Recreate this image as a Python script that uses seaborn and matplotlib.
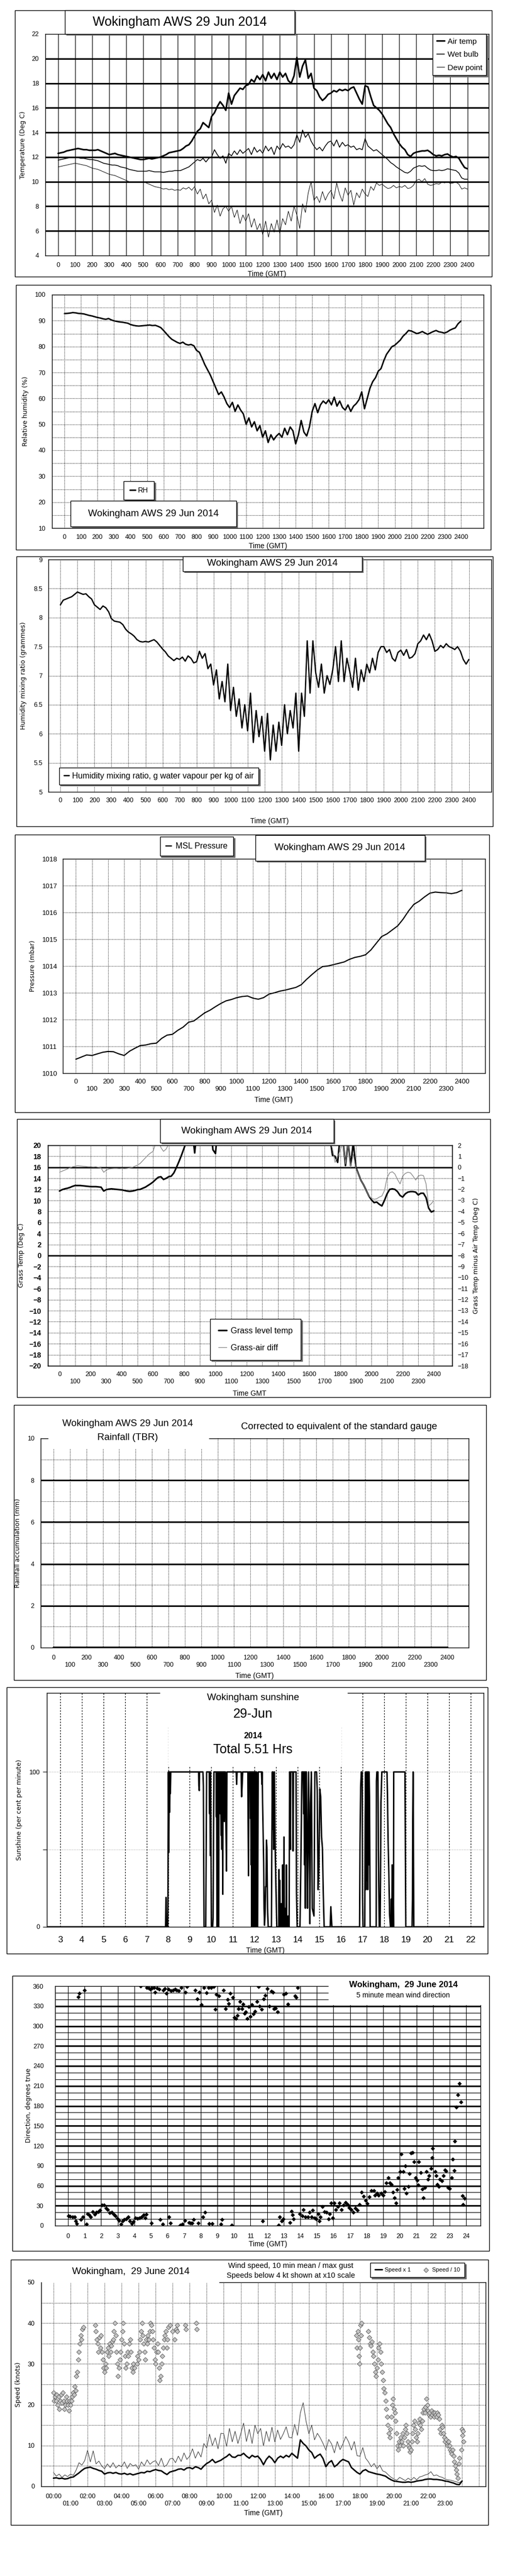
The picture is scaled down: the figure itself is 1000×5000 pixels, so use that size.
import numpy as np
import matplotlib
matplotlib.use("Agg")
import matplotlib.pyplot as plt
from matplotlib.patches import Rectangle
import seaborn as sns

sns.set_theme(style="white")
plt.rcParams["font.family"] = ["Liberation Sans", "DejaVu Sans"]
plt.rcParams.update({
    "axes.edgecolor": "black", "axes.linewidth": 1.0, "axes.labelcolor": "black",
    "xtick.color": "black", "ytick.color": "black", "text.color": "black",
    "axes.facecolor": "white", "figure.facecolor": "white",
})

# =============================================================================
# DATA  (for 29 Jun 2014)
# =============================================================================
# 10-minute readings 00:00 .. 24:00, one row per hour
air_temp = [
    12.3, 12.35, 12.4, 12.5, 12.55, 12.6,
    12.65, 12.7, 12.65, 12.6, 12.6, 12.55,
    12.55, 12.55, 12.6, 12.5, 12.4, 12.3,
    12.2, 12.25, 12.3, 12.2, 12.15, 12.1,
    12.05, 12.0, 11.95, 11.9, 11.85, 11.8,
    11.8, 11.85, 11.9, 11.85, 11.9, 11.95,
    12.0, 12.1, 12.2, 12.35, 12.4, 12.45,
    12.5, 12.55, 12.7, 12.9, 13.0, 13.3,
    13.7, 14.1, 14.3, 14.8, 14.6, 14.4,
    15.3, 15.6, 16.1, 16.5, 16.2, 15.8,
    17.2, 16.3, 17.0, 17.3, 17.6, 17.5,
    17.8, 17.9, 18.3, 18.1, 18.6, 18.3,
    18.7, 18.2, 18.9, 18.4, 18.8, 18.3,
    18.9, 18.5, 18.8, 18.2, 18.0, 18.6,
    20.1, 18.5, 19.4, 19.9, 18.4, 18.8,
    17.6, 17.4, 16.9, 16.6, 16.8, 17.1,
    17.2, 17.4, 17.3, 17.5, 17.4, 17.5,
    17.4, 17.6, 17.7, 17.2, 16.7, 16.3,
    17.8, 17.7, 16.9, 16.2, 16.0, 15.8,
    15.5, 15.1, 14.7, 14.4, 13.9, 13.5,
    13.1, 12.8, 12.6, 12.2, 12.05, 12.3,
    12.4, 12.45, 12.5, 12.5, 12.55, 12.4,
    12.2, 12.1, 12.15, 12.1, 12.2, 12.25,
    12.1, 12.0, 12.05, 11.9, 11.5, 11.15,
    11.05,
]
wet_bulb = [
    11.75, 11.8, 11.85, 11.9, 11.95, 12.0,
    12.0, 11.95, 11.9, 11.9, 11.85, 11.8,
    11.8, 11.75, 11.7, 11.6, 11.5, 11.45,
    11.4, 11.35, 11.35, 11.3, 11.2, 11.15,
    11.1, 11.0, 10.95, 10.9, 10.85, 10.85,
    10.85, 10.85, 10.9, 10.85, 10.8, 10.8,
    10.8, 10.75, 10.8, 10.85, 10.85, 10.9,
    10.9, 10.9, 11.0, 11.1, 11.2, 11.4,
    11.6, 11.8, 11.7, 11.9, 11.6, 11.9,
    12.0, 12.6, 12.2, 11.9, 12.1, 11.5,
    12.3, 12.1, 12.5, 12.2, 12.6, 12.3,
    12.5, 12.7, 12.2, 12.8, 12.4, 12.6,
    12.3, 12.9, 12.5, 12.8, 12.2, 12.9,
    12.6, 13.1, 12.8, 12.9, 12.7, 13.0,
    13.8, 13.2, 14.2, 13.6, 13.9, 13.3,
    12.9, 12.6, 12.8, 12.5, 12.9, 13.2,
    13.3, 12.9, 13.4, 12.8, 13.2, 12.9,
    13.0, 12.8, 12.9, 12.6, 12.7, 12.6,
    13.5, 12.9, 12.7, 12.5, 12.6, 12.4,
    12.2, 12.0, 11.8, 11.55, 11.4, 11.2,
    11.05, 10.9, 10.75, 10.7, 10.85, 11.1,
    11.2, 11.3, 11.25, 11.3, 11.1, 10.95,
    10.9, 10.9, 10.95, 10.9, 10.95, 11.05,
    11.0, 10.95, 10.9, 10.7, 10.3, 10.2,
    10.2,
]
dew_point = [
    11.2, 11.25, 11.3, 11.35, 11.4, 11.45,
    11.5, 11.45, 11.4, 11.35, 11.3, 11.2,
    11.1, 11.05, 11.0, 10.9, 10.8, 10.7,
    10.6, 10.55, 10.5, 10.4, 10.3, 10.2,
    10.1, 10.0, 9.95, 9.95, 9.95, 9.95,
    10.0, 9.9, 9.8, 9.7, 9.6, 9.55,
    9.5, 9.4, 9.45, 9.35, 9.4, 9.3,
    9.35, 9.3, 9.5, 9.4, 9.55, 9.3,
    9.6, 9.0, 9.4, 8.6, 9.0, 8.2,
    8.5, 7.5, 8.1, 7.2, 7.8, 8.0,
    7.6, 8.0, 7.1, 7.7, 6.6, 7.3,
    6.8, 7.4, 6.3, 7.0, 6.1, 6.6,
    5.7, 6.8, 5.5, 6.6, 5.9, 6.9,
    5.8, 7.0, 6.5, 7.6, 6.8, 8.0,
    7.3, 6.2, 8.2, 7.5, 9.1, 10.0,
    8.5, 8.8, 8.3, 9.2, 8.5, 9.0,
    9.3, 8.6, 9.9, 9.0, 8.4, 9.5,
    8.9, 9.3, 8.1, 9.1, 8.7, 9.4,
    9.0, 8.8, 9.6, 9.3, 9.9, 9.7,
    9.8, 9.6, 9.45, 9.5, 9.7, 9.5,
    9.6, 9.55, 9.7, 9.45, 9.5, 9.7,
    10.1, 10.2, 10.0, 10.25, 9.8, 9.7,
    9.75, 9.85, 9.8, 9.95, 9.9, 10.0,
    9.85, 9.9, 9.95, 9.8, 9.4, 9.5,
    9.4,
]
rel_humidity = [
    92.7, 92.8, 92.9, 93.1, 93.0, 92.8,
    92.7, 92.6, 92.3, 92.0, 91.8, 91.5,
    91.2, 91.0, 90.7, 90.5, 90.8, 90.3,
    89.9, 89.7, 89.5, 89.4, 89.2, 89.0,
    88.5, 88.2, 88.0, 87.9, 88.0, 88.1,
    88.2, 88.3, 88.1, 88.2, 87.8, 87.3,
    86.2, 85.0, 83.8, 82.8, 82.2, 81.6,
    81.2, 81.7, 80.9, 80.6, 80.8, 80.3,
    78.5, 77.8, 75.5, 73.0, 71.0, 69.0,
    66.5, 64.0, 61.5, 62.5, 60.5, 58.0,
    56.5, 58.5, 55.0, 57.5, 55.5, 54.0,
    50.0, 52.5, 49.0, 51.0, 47.5, 49.5,
    45.0, 47.5, 43.0, 46.0, 44.0, 45.5,
    46.5, 45.0, 48.5, 46.0, 49.0, 47.5,
    42.5, 46.0, 51.5, 47.0, 45.5, 49.0,
    55.0, 58.0, 54.5, 57.5, 59.0, 58.0,
    59.5, 57.5, 60.5, 57.0, 59.0, 56.5,
    55.5, 57.5, 55.0, 57.0, 58.0, 59.5,
    62.5, 56.0, 60.0, 64.0, 66.5, 68.0,
    70.5, 71.5, 74.5, 77.0, 78.5, 80.0,
    80.5, 81.5, 82.5, 84.0, 85.0, 86.2,
    86.0, 85.5, 85.0, 85.3, 85.8, 85.2,
    84.7, 85.3, 85.8, 86.2, 85.7, 85.5,
    85.2, 85.6, 86.3, 86.8, 87.2, 88.8,
    89.8,
]
mixing_ratio = [
    8.22, 8.3, 8.32, 8.34, 8.36, 8.4,
    8.44, 8.42, 8.4, 8.41, 8.36, 8.32,
    8.22, 8.18, 8.14, 8.2, 8.17, 8.1,
    7.98, 7.94, 7.93, 7.92, 7.88, 7.8,
    7.75, 7.72, 7.68, 7.62, 7.59, 7.58,
    7.59, 7.58, 7.6, 7.62, 7.58, 7.52,
    7.46, 7.41, 7.34, 7.3, 7.26, 7.3,
    7.28, 7.32, 7.25, 7.34, 7.3, 7.22,
    7.24, 7.42, 7.3, 7.38, 7.12, 7.2,
    6.84, 7.1, 6.6, 6.9, 6.55, 7.2,
    6.4, 6.8, 6.3, 6.6, 6.1, 6.5,
    6.05, 6.7, 5.85, 6.4, 5.95, 6.3,
    5.7, 6.35, 5.55, 6.15, 5.7, 6.2,
    5.8, 6.5, 6.0, 6.4, 6.1, 6.7,
    5.7, 6.7, 6.3, 7.6, 6.7, 7.6,
    7.05, 6.8, 7.2, 6.7, 7.0, 6.85,
    7.1, 7.5, 6.9, 7.6, 6.9, 7.3,
    7.07, 6.8, 7.3, 6.75, 7.1, 6.9,
    7.2, 7.05, 7.3, 7.1, 7.4, 7.5,
    7.5, 7.4, 7.45, 7.3, 7.25, 7.4,
    7.44, 7.35, 7.45, 7.3, 7.32, 7.38,
    7.55, 7.6, 7.7, 7.62, 7.72, 7.6,
    7.42, 7.45, 7.52, 7.48, 7.55, 7.5,
    7.48, 7.45, 7.5, 7.42, 7.28, 7.2,
    7.28,
]
grass_temp = [
    11.7, 11.95, 12.1, 12.2, 12.35, 12.55,
    12.7, 12.7, 12.7, 12.65, 12.6, 12.55,
    12.5, 12.5, 12.5, 12.45, 12.4, 11.7,
    11.95, 12.05, 12.1, 12.05, 12.0, 11.95,
    11.9, 11.8, 11.7, 11.65, 11.7, 11.8,
    11.95, 12.0, 12.2, 12.4, 12.7, 13.0,
    13.35, 13.8, 14.2, 14.3, 13.8, 14.0,
    14.3, 14.4, 15.0, 16.0, 17.1, 18.3,
    19.6, 21.0, 22.5, 23.0, 18.6, 23.5,
    25.0, 25.5, 26.0, 26.5, 25.0, 19.2,
    18.5, 24.0, 26.0, 27.0, 27.5, 28.0,
    28.5, 29.0, 29.0, 29.5, 29.5, 30.0,
    30.0, 30.0, 30.5, 30.0, 29.5, 30.0,
    30.0, 29.5, 29.0, 29.5, 29.0, 28.5,
    29.0, 30.0, 29.5, 29.0, 28.0, 27.0,
    26.0, 25.0, 24.5, 24.5, 25.0, 25.5,
    26.0, 25.5, 25.0, 25.0, 24.5, 24.5,
    24.0, 23.0, 21.5, 18.2, 18.0, 16.9,
    22.0, 21.0, 16.3, 20.5, 16.3, 20.5,
    16.0, 14.8, 13.6, 12.8, 11.8, 10.8,
    10.1, 9.6, 9.7, 9.3, 9.0, 10.0,
    11.2, 12.0, 12.1, 12.0, 11.6, 10.9,
    10.6, 11.2, 11.5, 11.6, 11.6, 11.5,
    11.0, 11.3, 11.3, 10.5, 8.6, 7.9,
    8.1,
]
grass_air_diff = [
    -0.45, -0.35, -0.25, -0.15, -0.05, 0.05,
    0.1, 0.15, 0.12, 0.1, 0.08, 0.05,
    0.05, 0.03, 0.05, 0.0, -0.05, -0.45,
    -0.25, -0.15, -0.12, -0.1, -0.1, -0.12,
    -0.1, -0.12, -0.1, -0.05, 0.0, 0.1,
    0.2, 0.35, 0.6, 0.85, 1.1, 1.3,
    1.45, 2.2, 2.5, 1.8, 1.45, 1.65,
    2.1, 2.6, 3.2, 3.8, 4.2, 4.5,
    5.0, 5.5, 6.0, 6.5, 4.0, 6.8,
    7.5, 7.8, 8.0, 8.3, 7.0, 4.5,
    3.5, 6.5, 8.0, 9.0, 9.5, 10.0,
    10.5, 10.8, 10.5, 11.0, 11.0, 11.5,
    11.3, 11.5, 11.8, 11.5, 11.0, 11.5,
    11.0, 11.0, 10.5, 11.0, 10.5, 10.0,
    9.0, 11.0, 10.5, 9.5, 9.5, 8.5,
    8.5, 7.8, 7.5, 7.8, 8.0, 8.2,
    8.5, 8.0, 7.8, 7.5, 7.0, 7.0,
    5.5, 3.5, 2.5, 1.7, 0.45, 1.0,
    1.55, 2.3, 0.3, 2.2, 0.0, 1.2,
    -0.1, -0.6, -1.2, -1.6, -2.1, -2.6,
    -2.8, -2.9, -2.85, -2.7, -2.6, -2.1,
    -0.95, -0.5, -0.4, -0.6, -1.1, -1.5,
    -0.8, -0.55, -0.45, -0.5, -0.8, -1.15,
    -0.8, -0.7, -0.75, -1.5, -3.5, -3.3,
    -3.0,
]
wind_mean = [
    2.0, 2.1, 1.9, 2.0, 1.8, 1.9,
    2.2, 2.3, 2.8, 3.3, 3.9, 4.4,
    4.6, 4.7, 4.4, 4.2, 3.9, 3.7,
    3.0, 3.3, 3.4, 3.2, 3.4, 3.1,
    3.0, 3.2, 2.9, 3.1, 2.8, 3.0,
    3.2, 3.4, 3.3, 3.7, 3.6, 3.9,
    4.1, 3.9, 3.8, 3.3, 2.9, 3.5,
    3.7, 3.9, 4.2, 4.3, 4.0, 4.5,
    4.6, 4.3, 4.8, 4.6, 4.2, 5.0,
    5.6, 6.0, 6.6, 5.8, 6.1, 6.4,
    6.9, 7.3, 7.9, 7.2, 7.1, 7.6,
    7.6, 8.1, 7.4, 6.9, 7.6, 7.2,
    7.4, 6.6, 5.3, 6.6, 7.4, 6.8,
    5.8, 6.9, 7.4, 7.0, 7.6, 7.2,
    8.1, 7.5, 6.9, 11.4, 10.5, 9.9,
    8.9, 8.3, 6.9, 7.5, 7.9, 6.8,
    4.8, 5.8, 6.3, 4.8, 5.3, 6.1,
    6.6, 6.3, 6.0, 4.6, 4.0, 3.4,
    3.0, 3.8, 4.1, 3.6, 3.4, 3.2,
    3.0, 2.9, 2.7, 2.5, 2.0, 1.6,
    1.3, 1.2, 1.1, 1.0, 1.0, 1.1,
    1.0, 1.1, 1.3, 1.4, 1.5, 1.7,
    1.8, 1.8, 1.7, 1.7, 1.6, 1.5,
    1.3, 1.2, 1.0, 0.8, 0.5, 0.4,
    1.3,
]
wind_gust = [
    3.4, 2.5, 3.0, 2.2, 2.8, 2.4,
    3.0, 2.7, 4.0, 5.8, 5.2, 6.3,
    8.8, 6.0, 8.7, 5.5, 6.2, 5.0,
    4.3, 5.5, 4.6, 5.8, 4.5, 5.2,
    4.8, 6.0, 4.4, 5.6, 5.0, 5.3,
    4.2, 6.0, 5.0, 6.5, 5.4, 6.0,
    6.3, 5.1, 6.9, 4.8, 5.3, 6.7,
    6.9, 5.8, 7.4, 6.1, 8.2, 6.6,
    7.4, 9.2, 6.9, 8.5, 7.2, 10.5,
    9.4, 12.8, 10.0, 11.9, 9.2, 13.0,
    12.9, 9.8, 14.2, 10.9, 13.5, 10.5,
    12.9, 15.5, 11.0, 14.0, 10.5, 15.0,
    12.9, 14.2, 9.9, 13.5, 11.0, 14.5,
    10.9, 13.8, 11.5, 12.9, 14.6, 12.0,
    11.9, 15.2, 12.5, 18.0, 20.5, 16.0,
    12.9, 15.0, 11.4, 13.0, 11.9, 10.5,
    8.9, 11.5, 10.4, 8.2, 11.0, 9.0,
    10.4, 12.2, 10.9, 8.9, 11.0, 7.5,
    7.4, 9.5, 6.9, 6.0, 4.8, 5.6,
    4.3, 5.2, 3.8, 3.5, 2.8, 2.2,
    1.8, 1.5, 2.2, 1.8, 1.4, 2.0,
    1.5, 2.2, 1.6, 2.3, 2.5, 2.8,
    3.0, 3.6, 2.6, 2.8, 2.4, 2.2,
    1.8, 1.6, 1.5, 1.3, 1.1, 0.9,
    1.4,
]
# 20-minute readings 00:00 .. 24:00
msl_pressure = [
    1010.52, 1010.6, 1010.68, 1010.66, 1010.72, 1010.78,
    1010.81, 1010.8, 1010.72, 1010.66, 1010.82, 1010.93,
    1011.03, 1011.05, 1011.1, 1011.12, 1011.3, 1011.42,
    1011.45, 1011.6, 1011.72, 1011.9, 1011.95, 1012.1,
    1012.25, 1012.35, 1012.48, 1012.6, 1012.7, 1012.75,
    1012.82, 1012.86, 1012.88, 1012.8, 1012.76, 1012.82,
    1012.95, 1013.0, 1013.06, 1013.1, 1013.15, 1013.2,
    1013.3, 1013.5, 1013.68, 1013.85, 1013.98, 1014.0,
    1014.05, 1014.1, 1014.15, 1014.25, 1014.32, 1014.36,
    1014.42, 1014.6, 1014.85, 1015.1, 1015.2, 1015.35,
    1015.5, 1015.75, 1016.05, 1016.3, 1016.42, 1016.58,
    1016.72, 1016.76, 1016.74, 1016.73, 1016.7, 1016.74,
    1016.83,
]
# hourly rain gauge accumulation (mm)
rain_mm = [0.0, 0.0, 0.0, 0.0, 0.0, 0.0, 0.0, 0.0, 0.0, 0.0, 0.0, 0.0, 0.0,
           0.0, 0.0, 0.0, 0.0, 0.0, 0.0, 0.0, 0.0, 0.0, 0.0, 0.0, 0.0]

# sunshine recorder (hour, per cent of minute)
sunshine = [
    (2.39, 0), (7.88, 0), (7.90, 19), (7.91, 10), (7.92, 0), (7.98, 0), (7.99, 20),
    (8.01, 100), (8.03, 48), (8.05, 100), (8.07, 74), (8.09, 100), (8.10, 86), (8.12, 100),
    (9.41, 100), (9.42, 91), (9.44, 88), (9.45, 100), (9.61, 100), (9.63, 91), (9.66, 0),
    (9.74, 0), (9.78, 100), (9.90, 100), (9.92, 73), (9.93, 100), (9.95, 46), (9.96, 100),
    (9.98, 57), (10.00, 0), (10.06, 0), (10.08, 6), (10.10, 57), (10.12, 100),
    (10.22, 100), (10.23, 71), (10.24, 100), (10.25, 59), (10.26, 0), (10.27, 100),
    (10.28, 0), (10.29, 100), (10.30, 0), (10.31, 100), (10.32, 0), (10.34, 0), (10.35, 100),
    (10.37, 90), (10.38, 100), (10.41, 73), (10.42, 100), (10.45, 59), (10.46, 100),
    (10.49, 50), (10.50, 100), (10.53, 21), (10.54, 100), (10.58, 100), (10.60, 68),
    (10.62, 100), (10.65, 100), (10.67, 68), (10.70, 36), (10.72, 100),
    (11.15, 100), (11.17, 92), (11.19, 100), (11.38, 100), (11.40, 84), (11.42, 90), (11.45, 100),
    (11.69, 100), (11.70, 68), (11.72, 33), (11.74, 100), (11.80, 100), (11.81, 70),
    (11.82, 100), (11.84, 40), (11.85, 100), (11.87, 0), (11.88, 100), (11.90, 0),
    (11.91, 100), (11.93, 0), (11.95, 100), (11.96, 0), (11.98, 100), (12.00, 0),
    (12.02, 100), (12.03, 0), (12.05, 100), (12.07, 0), (12.09, 100), (12.11, 0),
    (12.14, 0), (12.17, 100), (12.32, 100), (12.34, 92), (12.35, 100), (12.37, 81),
    (12.40, 58), (12.42, 42), (12.44, 12), (12.46, 1), (12.49, 10), (12.51, 26),
    (12.53, 26), (12.55, 56), (12.57, 51), (12.60, 12), (12.63, 0), (12.78, 0),
    (12.80, 56), (12.82, 100), (12.84, 63), (12.86, 100), (12.88, 50), (12.92, 100),
    (12.95, 53), (12.99, 25), (13.03, 0), (13.12, 0), (13.13, 37), (13.15, 0),
    (13.17, 30), (13.19, 0), (13.23, 0), (13.24, 15), (13.26, 0), (13.29, 0),
    (13.30, 40), (13.32, 0), (13.35, 0), (13.36, 58), (13.38, 0), (13.39, 0),
    (13.40, 12), (13.42, 0), (13.46, 0), (13.47, 40), (13.49, 0), (13.54, 0),
    (13.55, 7), (13.57, 0), (13.60, 0), (13.62, 100), (13.66, 50), (13.67, 100),
    (13.76, 100), (13.78, 49), (13.80, 100), (13.92, 100), (13.94, 22), (13.97, 0),
    (14.10, 0), (14.11, 7), (14.15, 48), (14.19, 100), (14.25, 100), (14.27, 73),
    (14.29, 100), (14.31, 40), (14.33, 100), (14.35, 12), (14.37, 100), (14.40, 100),
    (14.42, 56), (14.45, 12), (14.50, 100), (14.55, 29), (14.56, 2), (14.59, 80),
    (14.63, 100), (14.67, 12), (14.75, 7), (14.79, 100), (14.87, 100), (14.90, 88),
    (14.94, 24), (14.98, 40), (15.02, 89), (15.06, 84), (15.10, 58), (15.14, 51),
    (15.18, 22), (15.22, 0), (15.50, 0), (15.53, 13), (15.55, 8), (15.58, 0),
    (16.86, 0), (16.88, 54), (16.91, 90), (16.94, 100), (16.98, 100), (17.00, 19),
    (17.02, 0), (17.10, 0), (17.12, 71), (17.14, 100), (17.16, 24), (17.18, 100),
    (17.20, 30), (17.22, 100), (17.24, 24), (17.26, 100), (17.28, 40), (17.30, 100),
    (17.32, 84), (17.35, 0), (17.63, 0), (17.64, 94), (17.66, 100), (17.71, 100),
    (17.73, 53), (17.77, 0), (17.81, 0), (17.83, 31), (17.85, 80), (17.89, 100),
    (18.13, 100), (18.15, 86), (18.18, 56), (18.21, 38), (18.25, 8), (18.29, 0),
    (18.31, 0), (18.33, 18), (18.35, 0), (18.37, 40), (18.39, 0), (18.41, 27),
    (18.43, 0), (18.44, 100), (18.96, 100), (18.98, 50), (19.00, 0), (19.29, 0),
    (19.31, 18), (19.32, 68), (19.34, 100), (19.37, 0), (22.61, 0),
]

# 5 minute mean wind direction (hour, degrees true)
wind_dir = [
    (0.04, 15), (0.14, 14), (0.28, 13), (0.40, 13), (0.47, 7), (0.53, 3), (0.61, 344),
    (0.67, 349), (0.77, 9), (0.89, 13), (1.01, 354), (1.11, 2), (1.17, 18), (1.27, 16),
    (1.36, 13), (1.50, 21), (1.62, 17), (1.72, 20), (1.82, 21), (1.92, 23), (2.06, 31),
    (2.17, 31), (2.29, 26), (2.39, 24), (2.51, 19), (2.63, 20), (2.75, 17), (2.85, 15),
    (2.97, 11), (3.08, 8), (3.20, 2), (3.30, 7), (3.40, 9), (3.52, 10), (3.64, 13),
    (3.74, 7), (3.84, 3), (3.95, 6), (4.07, 12), (4.19, 11), (4.31, 12), (4.37, 360),
    (4.43, 13), (4.55, 16), (4.65, 12), (4.71, 17), (4.76, 358), (4.86, 357), (4.98, 355),
    (5.02, 4), (5.06, 357), (5.18, 358), (5.26, 351), (5.38, 357), (5.50, 355), (5.56, 9),
    (5.70, 2), (5.73, 354), (5.85, 356), (5.93, 349), (6.05, 355), (6.09, 13), (6.17, 4),
    (6.21, 353), (6.33, 354), (6.45, 355), (6.56, 354), (6.68, 353), (6.78, 1), (6.84, 358),
    (6.90, 2), (7.04, 8), (7.08, 351), (7.18, 359), (7.30, 5), (7.39, 4), (7.49, 4),
    (7.59, 9), (7.67, 354), (7.79, 341), (7.85, 4), (7.91, 351), (8.03, 332), (8.13, 13),
    (8.19, 358), (8.26, 20), (8.34, 350), (8.46, 358), (8.50, 3), (8.62, 358), (8.68, 3),
    (8.78, 359), (8.88, 325), (8.94, 348), (9.09, 345), (9.21, 2), (9.29, 9), (9.37, 354),
    (9.49, 326), (9.61, 340), (9.69, 334), (9.77, 349), (9.88, 1), (9.92, 343), (10.04, 313),
    (10.12, 311), (10.20, 316), (10.28, 326), (10.36, 337), (10.48, 326), (10.56, 333),
    (10.64, 319), (10.72, 321), (10.80, 311), (10.91, 329), (10.99, 314), (11.07, 332),
    (11.19, 318), (11.27, 322), (11.39, 337), (11.47, 359), (11.55, 330), (11.66, 325),
    (11.74, 7), (11.78, 341), (11.90, 346), (12.02, 356), (12.14, 330), (12.26, 352),
    (12.34, 351), (12.42, 326), (12.50, 327), (12.62, 321), (12.69, 1), (12.77, 13),
    (12.89, 7), (12.97, 10), (13.00, 348), (13.13, 349), (13.25, 333), (13.37, 5),
    (13.46, 22), (13.52, 16), (13.60, 10), (13.68, 345), (13.76, 343), (13.84, 358),
    (13.96, 18), (14.12, 15), (14.20, 24), (14.31, 13), (14.47, 13), (14.55, 20),
    (14.67, 13), (14.75, 23), (14.87, 12), (14.95, 10), (15.07, 18), (15.14, 7),
    (15.22, 13), (15.34, 29), (15.46, 21), (15.58, 20), (15.70, 10), (15.78, 18),
    (15.86, 34), (15.94, 12), (16.05, 34), (16.13, 24), (16.25, 29), (16.37, 34),
    (16.49, 24), (16.61, 31), (16.73, 35), (16.84, 32), (16.96, 27), (17.08, 24),
    (17.20, 20), (17.32, 26), (17.44, 23), (17.56, 32), (17.69, 50), (17.83, 44),
    (17.93, 38), (18.03, 33), (18.17, 43), (18.29, 53), (18.43, 53), (18.49, 46),
    (18.62, 49), (18.72, 46), (18.86, 49), (19.00, 46), (19.10, 51), (19.18, 64),
    (19.30, 72), (19.39, 64), (19.49, 62), (19.59, 50), (19.67, 42), (19.77, 34),
    (19.83, 54), (19.89, 72), (20.03, 81), (20.09, 108), (20.19, 81), (20.26, 56),
    (20.34, 90), (20.40, 49), (20.50, 59), (20.58, 78), (20.68, 109), (20.76, 110),
    (20.87, 96), (20.94, 72), (21.04, 68), (21.12, 61), (21.15, 96), (21.27, 80),
    (21.35, 55), (21.43, 42), (21.51, 57), (21.60, 81), (21.69, 70), (21.75, 75),
    (21.87, 86), (21.94, 102), (21.98, 116), (22.12, 81), (22.18, 75), (22.24, 62),
    (22.34, 59), (22.42, 70), (22.52, 67), (22.62, 75), (22.72, 84), (22.78, 82),
    (22.92, 57), (23.01, 56), (23.11, 72), (23.19, 100), (23.29, 83), (23.31, 127),
    (23.41, 178), (23.51, 197), (23.59, 214), (23.67, 186), (23.76, 45), (23.82, 32),
    (23.90, 41),
]

# speeds below 4 kt shown x10 (hour, knots x10)
speed_x10 = [
    (0.00, 23), (0.05, 21), (0.10, 22), (0.15, 21), (0.20, 22.5), (0.25, 20), (0.30, 22),
    (0.35, 19), (0.40, 21), (0.45, 22.5), (0.50, 20.5), (0.55, 23), (0.60, 21), (0.65, 19),
    (0.70, 20), (0.75, 22), (0.80, 21), (0.85, 20), (0.90, 18.5), (0.95, 21), (1.00, 20),
    (1.05, 21), (1.10, 22), (1.15, 23), (1.20, 22.5), (1.25, 24.5), (1.30, 23.5), (1.35, 27),
    (1.40, 28), (1.45, 31), (1.50, 33), (1.55, 35), (1.60, 37), (1.65, 36), (1.70, 38.5),
    (1.75, 39), (2.45, 39.5), (2.50, 38), (2.55, 36), (2.60, 35), (2.65, 33), (2.70, 36.5),
    (2.75, 34), (2.80, 37), (2.85, 33), (2.90, 31), (2.95, 29), (3.00, 28), (3.05, 30),
    (3.10, 29), (3.15, 33), (3.20, 34), (3.25, 32), (3.30, 35), (3.35, 33), (3.40, 34.5),
    (3.45, 35.5), (3.50, 36), (3.55, 38), (3.60, 40), (3.65, 37), (3.70, 33), (3.75, 30),
    (3.80, 27), (3.85, 29), (3.90, 31), (3.95, 33), (4.00, 36), (4.05, 38), (4.10, 40),
    (4.15, 35), (4.20, 32), (4.25, 29), (4.30, 30), (4.35, 33), (4.40, 32), (4.45, 35),
    (4.50, 36), (4.55, 33), (4.60, 29), (4.65, 28), (4.70, 30), (4.75, 29), (4.90, 30),
    (4.95, 32), (5.00, 31), (5.05, 33), (5.10, 36), (5.15, 38), (5.20, 40), (5.25, 37),
    (5.30, 35), (5.35, 33), (5.40, 31), (5.45, 36), (5.50, 35), (5.55, 37), (5.60, 36),
    (5.65, 38), (5.70, 40), (5.75, 39.5), (5.80, 38), (5.85, 36), (5.90, 34), (5.95, 31),
    (6.00, 30), (6.05, 33), (6.10, 35), (6.15, 33), (6.20, 29), (6.25, 26), (6.30, 27),
    (6.35, 30), (6.40, 32), (6.45, 34), (6.50, 36), (6.55, 37), (6.60, 38), (6.65, 34),
    (6.70, 36), (6.75, 39), (6.85, 39.5), (7.00, 38), (7.10, 36), (7.20, 38.5),
    (7.25, 39.5), (7.27, 38), (7.75, 39.5), (7.77, 38.5), (8.38, 40), (8.40, 38.5),
    (17.80, 37), (17.83, 34), (17.87, 38), (17.90, 36), (17.93, 32), (17.96, 30),
    (18.00, 34), (18.03, 39.5), (18.06, 37), (18.10, 40), (18.50, 38), (18.55, 36.5),
    (18.60, 35), (18.65, 34.5), (18.70, 35.5), (18.75, 33), (18.80, 32), (18.85, 30),
    (18.90, 28), (18.95, 27), (19.00, 29), (19.05, 31), (19.10, 34), (19.15, 35),
    (19.20, 33), (19.25, 30), (19.30, 28), (19.35, 26), (19.40, 24), (19.45, 23),
    (19.50, 21), (19.55, 19), (19.60, 17), (19.65, 15), (19.70, 13), (19.75, 12),
    (19.80, 14), (19.85, 17), (19.90, 20), (19.95, 21.5), (20.00, 19), (20.05, 18),
    (20.10, 16), (20.15, 13), (20.20, 10), (20.25, 9), (20.30, 11), (20.35, 10),
    (20.40, 12), (20.45, 11), (20.50, 13), (20.55, 10), (20.60, 12), (20.65, 14),
    (20.70, 15), (20.75, 13), (20.80, 11), (20.85, 10), (20.90, 9.5), (20.95, 8.5),
    (21.00, 9), (21.05, 11), (21.10, 13), (21.15, 15), (21.20, 16), (21.25, 14),
    (21.30, 12), (21.35, 11), (21.40, 13), (21.45, 15.5), (21.50, 16.5), (21.55, 15),
    (21.60, 14), (21.65, 16), (21.70, 18), (21.75, 19), (21.80, 18), (21.85, 19.5),
    (21.90, 21.5), (21.95, 20), (22.00, 18.5), (22.05, 17.5), (22.10, 18), (22.15, 17),
    (22.20, 18.5), (22.25, 17.5), (22.30, 18), (22.35, 17), (22.40, 18), (22.45, 17.5),
    (22.50, 17), (22.55, 18), (22.60, 17.5), (22.65, 16.5), (22.70, 14), (22.75, 13),
    (22.80, 15), (22.85, 14.5), (22.90, 13), (22.95, 12), (23.00, 11), (23.05, 11.5),
    (23.10, 10.5), (23.15, 10), (23.20, 11), (23.25, 10), (23.30, 9), (23.35, 8.5),
    (23.40, 8), (23.45, 9), (23.50, 7.5), (23.55, 6), (23.60, 5), (23.65, 4),
    (23.70, 3), (23.75, 2), (23.80, 5.5), (23.85, 7), (23.95, 9), (24.00, 14),
    (24.02, 12.5), (24.05, 13.5), (24.07, 11),
]

t10 = np.arange(len(air_temp)) / 6.0          # hours
t20 = np.arange(len(msl_pressure)) / 3.0
rain_hours = np.arange(len(rain_mm)) * 1.0
sun_h, sun_pct = zip(*sunshine)
dir_h, dir_deg = zip(*wind_dir)
sp_h, sp_val = zip(*speed_x10)

TITLE = "Wokingham AWS 29 Jun 2014"
HHMM = np.arange(0, 2401, 100)
DOT = (0, (1, 1.6))

# =============================================================================
# LAYOUT HELPERS (pixel coordinates, origin top-left)
# =============================================================================
W, H = 1000, 5000
fig = plt.figure(figsize=(W / 100, H / 100), dpi=100)


def fx(x):
    return x / W


def fy(y):
    return 1 - y / H


def panel_axes(l, t, r, b):
    return fig.add_axes([fx(l), fy(b), (r - l) / W, (b - t) / H])


def frame(l, t, r, b, fill=False, shadow=False, edge="black", lw=1.0):
    if shadow:
        fig.add_artist(Rectangle((fx(l + 3), fy(b + 3)), (r - l) / W, (b - t) / H,
                                 transform=fig.transFigure, fc="#6e6e6e", ec="none", zorder=1))
    fig.add_artist(Rectangle((fx(l), fy(b)), (r - l) / W, (b - t) / H,
                             transform=fig.transFigure, fc="white" if fill else "none",
                             ec=edge, lw=lw, zorder=1))


def ftext(x, y, s, size, **kw):
    kw.setdefault("ha", "center")
    kw.setdefault("va", "center")
    fig.text(fx(x), fy(y), s, fontsize=size, **kw)


def axis_labels(ax, xlabel, xpos, ylabel, ypos, xsize=10, ysize=9):
    ax.set_xlabel(xlabel, fontsize=xsize)
    ax.xaxis.set_label_coords(fx(xpos[0]), fy(xpos[1]), transform=fig.transFigure)
    ax.xaxis.label.set_va("center")
    ax.set_ylabel(ylabel, fontsize=ysize, family="DejaVu Sans")
    ax.yaxis.set_label_coords(fx(ypos[0]), fy(ypos[1]), transform=fig.transFigure)
    ax.yaxis.label.set_va("center")


def box_legend(ax, l, t, size, handles=None, labels=None, **kw):
    if handles is None:
        handles, labels = ax.get_legend_handles_labels()
    leg = ax.legend(handles, labels, loc="upper left", bbox_to_anchor=(fx(l), fy(t)),
                    bbox_transform=fig.transFigure, frameon=True, fancybox=False,
                    shadow={"color": "#6e6e6e", "alpha": 1}, edgecolor="black",
                    framealpha=1, borderaxespad=0, fontsize=size, **kw)
    leg.get_frame().set_linewidth(1.0)
    return leg


def two_row(vals, fmt=str):
    return [fmt(v) if i % 2 == 0 else "\n" + fmt(v) for i, v in enumerate(vals)]


def line(ax, x, y, **kw):
    sns.lineplot(x=x, y=y, ax=ax, estimator=None, sort=False, color=kw.pop("color", "black"), **kw)


# =============================================================================
# 1. TEMPERATURE
# =============================================================================
frame(28.7, 20, 954.7, 537)
ax = panel_axes(88, 66, 949, 496)
line(ax, t10 * 100, air_temp, linewidth=2.2, label="Air temp")
line(ax, t10 * 100, wet_bulb, linewidth=1.1, label="Wet bulb")
line(ax, t10 * 100, dew_point, linewidth=0.7, label="Dew point")
ax.set_xlim(-75, 2525)
ax.set_ylim(4, 22)
ax.set_xticks(HHMM)
ax.set_yticks(np.arange(4, 23, 2))
for v in range(6, 21, 2):
    ax.axhline(v, color="black", lw=2.2, zorder=1)
for v in HHMM:
    ax.axvline(v, color="black", lw=0.8, zorder=1)
ax.tick_params(axis="both", length=0, labelsize=9)
ax.tick_params(axis="x", pad=9)
ax.tick_params(axis="y", pad=9)
axis_labels(ax, "Time (GMT)", (518, 532), "Temperature (Deg C)", (45, 281))
box_legend(ax, 840, 66, 11, handlelength=1.0, handletextpad=0.4, labelspacing=0.75, borderpad=0.5)
frame(126, 20, 572, 66, fill=True, shadow=True)
ftext(349, 43, TITLE, 18)

# =============================================================================
# 2. RELATIVE HUMIDITY
# =============================================================================
frame(30.6, 553, 953.4, 1067)
ax = panel_axes(100.8, 572, 939.4, 1025)
line(ax, t10 * 100, rel_humidity, linewidth=2.0, label="RH")
ax.set_xlim(-76, 2539)
ax.set_ylim(10, 100)
ax.set_xticks(HHMM)
ax.set_yticks(np.arange(10, 101, 10))
for v in range(15, 100, 5):
    ax.axhline(v, color="black", lw=0.8, ls=DOT, zorder=1)
for v in HHMM:
    ax.axvline(v, color="black", lw=0.8, ls=DOT, zorder=1)
ax.tick_params(axis="both", length=0, labelsize=9, pad=9)
axis_labels(ax, "Time (GMT)", (520, 1060), "Relative humidity (%)", (50, 798))
box_legend(ax, 240.4, 934, 10, handlelength=0.8, handletextpad=0.4, borderpad=0.8)
frame(136.5, 972, 459.2, 1022, fill=True, shadow=True)
ftext(298, 997, TITLE, 13.5)

# =============================================================================
# 3. HUMIDITY MIXING RATIO
# =============================================================================
frame(31.9, 1080, 956.6, 1604)
ax = panel_axes(93.8, 1086, 953.5, 1537)
line(ax, t10 * 100, mixing_ratio, linewidth=1.8,
     label="Humidity mixing ratio, g water vapour per kg of air")
ax.set_xlim(-71, 2530)
ax.set_ylim(5, 9)
ax.set_xticks(HHMM)
yt = np.arange(5, 9.01, 0.5)
ax.set_yticks(yt)
ax.set_yticklabels([f"{v:g}" for v in yt])
for v in yt[1:-1]:
    ax.axhline(v, color="black", lw=0.8, ls=DOT, zorder=1)
for v in HHMM:
    ax.axvline(v, color="black", lw=0.8, ls=DOT, zorder=1)
ax.tick_params(axis="both", length=0, labelsize=9)
ax.tick_params(axis="x", pad=8)
ax.tick_params(axis="y", pad=8)
axis_labels(ax, "Time (GMT)", (523, 1594), "Humidity mixing ratio (grammes)", (46, 1311))
box_legend(ax, 115.4, 1490, 11.5, handlelength=0.6, handletextpad=0.4, borderpad=0.55)
frame(355.2, 1080, 702.8, 1109, fill=True, shadow=True)
ftext(529, 1094, TITLE, 13.5)

# =============================================================================
# 4. MSL PRESSURE
# =============================================================================
frame(28.7, 1620, 949.6, 2159)
ax = panel_axes(122.4, 1667, 942, 2083)
line(ax, t20 * 100, msl_pressure, linewidth=1.6, label="MSL Pressure")
ax.set_xlim(-80, 2543)
ax.set_ylim(1010, 1018)
ax.set_xticks(HHMM)
ax.set_xticklabels(two_row(HHMM))
ax.set_yticks(np.arange(1010, 1019, 1))
for v in range(1011, 1018):
    ax.axhline(v, color="black", lw=0.8, ls=DOT, zorder=1)
for v in HHMM:
    ax.axvline(v, color="black", lw=0.8, ls=DOT, zorder=1)
ax.tick_params(axis="both", length=0, labelsize=9.5)
ax.tick_params(axis="x", pad=8)
ax.tick_params(axis="y", pad=8)
axis_labels(ax, "Time (GMT)", (531, 2135), "Pressure (mbar)", (64, 1875))
box_legend(ax, 310.6, 1624, 11.5, handlelength=0.7, handletextpad=0.5, borderpad=0.7)
frame(495.5, 1621, 824.6, 1671, fill=True, shadow=True)
ftext(660, 1646, TITLE, 13.5)

# =============================================================================
# 5. GRASS TEMPERATURE
# =============================================================================
frame(33.2, 2172, 951.5, 2712)
ax = panel_axes(92.5, 2223, 877.6, 2651)
ax2 = ax.twinx()
line(ax, t10 * 100, grass_temp, linewidth=2.2, label="Grass level temp")
line(ax2, t10 * 100, grass_air_diff, linewidth=1.0, color="#8a8a8a", label="Grass-air diff")
ax.set_xlim(-76, 2516)
ax.set_ylim(-20, 20)
ax2.set_ylim(-18, 2)
ax.set_xticks(HHMM)
ax.set_xticklabels(two_row(HHMM))
ax.set_yticks(np.arange(-20, 21, 2))
ax2.set_yticks(np.arange(-18, 3, 1))
for v in range(-18, 21, 2):
    if v in (0, 16):
        ax.axhline(v, color="black", lw=2.0, zorder=1)
    else:
        ax.axhline(v, color="black", lw=0.8, ls=DOT, zorder=1)
for v in HHMM:
    ax.axvline(v, color="black", lw=0.8, ls=DOT, zorder=1)
ax.tick_params(axis="both", length=0, labelsize=9)
ax.tick_params(axis="x", pad=8)
ax.tick_params(axis="y", labelsize=10, pad=9)
for lab in ax.get_yticklabels():
    lab.set_fontweight("bold")
ax2.tick_params(axis="y", length=0, labelsize=9, pad=8)
axis_labels(ax, "Time GMT", (485, 2705), "Grass Temp (Deg C)", (41.5, 2437))
ax2.set_ylabel("Grass Temp minus Air Temp (Deg C)", fontsize=9, family="DejaVu Sans")
ax2.yaxis.set_label_coords(fx(924.7), fy(2437), transform=fig.transFigure)
ax2.yaxis.label.set_va("center")
if ax.get_legend() is not None:
    ax.get_legend().remove()
h1, l1 = ax.get_legend_handles_labels()
h2, l2 = ax2.get_legend_handles_labels()
box_legend(ax2, 408.2, 2560, 11.5, handles=h1 + h2, labels=l1 + l2,
           handlelength=1.0, handletextpad=0.5, labelspacing=1.1, borderpad=1.0)
frame(310.6, 2172, 648, 2218, fill=True, shadow=True)
ftext(479, 2195, TITLE, 13.5)

# =============================================================================
# 6. RAINFALL
# =============================================================================
frame(26.8, 2727, 943.9, 3261)
ax = panel_axes(79.1, 2792, 910, 3198)
line(ax, rain_hours * 100, rain_mm, linewidth=2.8)
ax.set_xlim(-78, 2530)
ax.set_ylim(0, 10)
ax.set_xticks(HHMM)
ax.set_xticklabels(two_row(HHMM))
ax.set_yticks(np.arange(0, 11, 2))
for v in range(1, 10):
    if v % 2 == 0:
        ax.axhline(v, color="black", lw=2.2, zorder=1)
    else:
        ax.axhline(v, color="black", lw=0.8, ls=DOT, zorder=1)
for v in HHMM:
    ax.axvline(v, color="black", lw=0.8, ls=DOT, zorder=1)
ax.tick_params(axis="both", length=0, labelsize=9)
ax.tick_params(axis="x", pad=10)
ax.tick_params(axis="y", pad=9)
axis_labels(ax, "Time (GMT)", (494, 3253), "Rainfall accumulation (mm)", (35, 2995))
frame(93.8, 2742, 405.6, 2813, fill=True, edge="none")
ftext(247.4, 2763, TITLE, 13.5)
ftext(247.4, 2790, "Rainfall (TBR)", 13.5)
ftext(658.2, 2769, "Corrected to equivalent of the standard gauge", 13.5)

# =============================================================================
# 7. SUNSHINE
# =============================================================================
frame(12.8, 3275, 947, 3792)
ax = panel_axes(91.2, 3286, 939.4, 3740)
line(ax, sun_h, sun_pct, linewidth=2.0)
ax.set_xlim(2.39, 22.61)
ax.set_ylim(0, 151)
ax.set_xticks(np.arange(3, 23))
ax.set_yticks([0, 50, 100])
ax.set_yticklabels(["0", "", "100"])
for v in range(3, 23):
    ax.axvline(v, color="black", lw=0.9, ls=(0, (2.2, 2.2)), zorder=1)
for v in (50, 100):
    ax.axhline(v, color="#a8a8a8", lw=0.9, ls=DOT, zorder=1)
ax.tick_params(axis="x", length=0, labelsize=12.5, pad=13)
ax.tick_params(axis="y", length=6, width=0.8, direction="out", labelsize=9, pad=4, left=True)
axis_labels(ax, "Time (GMT)", (515, 3786), "Sunshine (per cent per minute)", (38, 3513))
frame(310.6, 3281, 674.7, 3352, fill=True, edge="none")
frame(326.5, 3351, 663.3, 3428, fill=True, edge="none")
ftext(491, 3296, "Wokingham sunshine", 13.5)
ftext(491, 3327, "29-Jun", 18)
ftext(491, 3369, "2014", 11.5, fontweight="bold")
ftext(491, 3396, "Total 5.51 Hrs", 18)

# =============================================================================
# 8. WIND DIRECTION
# =============================================================================
frame(23.6, 3835, 950.3, 4369)
ax = panel_axes(107.1, 3855, 933, 4320)
sns.scatterplot(x=dir_h, y=dir_deg, ax=ax, marker="D", s=15, color="black",
                edgecolor="black", linewidth=0.3, zorder=3)
ax.set_xlim(-0.77, 24.86)
ax.set_ylim(0, 360)
ax.set_xticks(np.arange(0, 25))
ax.set_yticks(np.arange(0, 361, 30))
for v in range(10, 360, 10):
    ax.axhline(v, color="black", lw=2.2 if v % 30 == 0 else 0.8, zorder=1)
for v in range(0, 25):
    ax.axvline(v, color="black", lw=0.8, zorder=1)
ax.tick_params(axis="both", length=0, labelsize=9)
ax.tick_params(axis="x", pad=11)
ax.tick_params(axis="y", pad=16)
axis_labels(ax, "Time (GMT)", (520, 4356), "Direction, degrees true", (56, 4087))
frame(637.8, 3842, 942, 3892, fill=True, edge="none")
ftext(783.2, 3853, "Wokingham,  29 June 2014", 12, fontweight="bold")
ftext(783.2, 3873, "5 minute mean wind direction", 10)

# =============================================================================
# 9. WIND SPEED
# =============================================================================
frame(21, 4386, 948.3, 4901)
ax = panel_axes(79.7, 4430, 942.6, 4826)
line(ax, t10, wind_gust, linewidth=0.8, color="#404040")
line(ax, t10, wind_mean, linewidth=2.0, label="Speed x 1")
sns.scatterplot(x=sp_h, y=sp_val, ax=ax, marker="D", s=22, color="#c4c4c4",
                edgecolor="#505050", linewidth=0.6, zorder=3, label="Speed / 10")
ax.set_xlim(-0.73, 25.37)
ax.set_ylim(0, 50)
hours = np.arange(0, 24)
ax.set_xticks(hours)
ax.set_xticklabels(two_row(hours, lambda h: f"{h:02d}:00"))
ax.set_yticks(np.arange(0, 51, 10))
for v in range(5, 50, 5):
    ax.axhline(v, color="black", lw=0.8, ls=DOT, zorder=1)
for v in range(0, 26):
    ax.axvline(v, color="black", lw=0.8, ls=DOT, zorder=1)
ax.spines["top"].set_bounds(9.73, 25.37)
ax.tick_params(axis="both", length=0, labelsize=9)
ax.tick_params(axis="x", pad=10)
ax.tick_params(axis="y", pad=9)
axis_labels(ax, "Time (GMT)", (511, 4878), "Speed (knots)", (35, 4628))
box_legend(ax, 719.4, 4392, 8, ncol=2, handlelength=1.2, handletextpad=0.5,
           columnspacing=2.0, borderpad=0.8)
ftext(253.8, 4409, "Wokingham,  29 June 2014", 13.5)
ftext(564.4, 4398, "Wind speed, 10 min mean / max gust", 10.5)
ftext(564.4, 4417, "Speeds below 4 kt shown at x10 scale", 10.5)

fig.savefig("out.png", dpi=100)
